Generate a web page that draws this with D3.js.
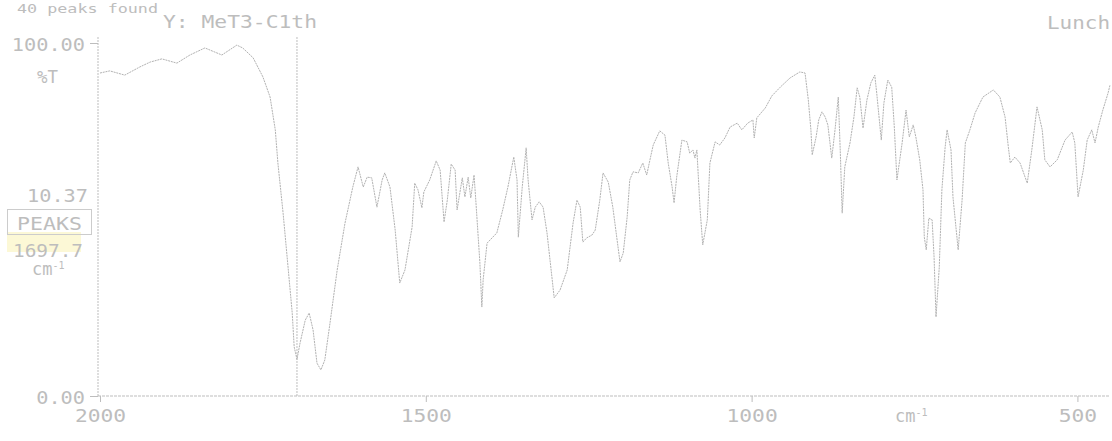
<!DOCTYPE html>
<html>
<head>
<meta charset="utf-8">
<script src="https://cdn.jsdelivr.net/npm/d3@7"></script>
<style>
  html, body { margin: 0; padding: 0; background: #ffffff; }
  svg { display: block; }
  text { font-family: "DejaVu Sans Mono", "Liberation Mono", monospace; fill: #bdbdbd; }
</style>
</head>
<body>
<svg id="chart" width="1112" height="441"></svg>
<script>
// ---- data (wavenumber in cm-1, %T) ----
const wavenumbers = [2000,1985,1962,1939,1923,1905,1882,1862,1839,1813,1790,1781,1765,1750,1739,1731,1727,1719,1712,1705,1702,1697.7,1693,1685,1679,1673,1667,1661,1655,1647,1636,1624,1612,1604,1596,1590,1583,1575,1567,1563,1555,1547,1540,1532,1521,1517,1512,1506,1503,1494,1484,1478,1472,1467,1461,1455,1452,1444,1440,1435,1431,1426,1423,1417,1414,1412,1406,1391,1382,1374,1365,1360,1358,1352,1346,1343,1337,1332,1326,1320,1314,1306,1303,1294,1283,1274,1268,1263,1259,1253,1245,1240,1233,1228,1220,1213,1207,1202,1197,1191,1187,1182,1174,1167,1161,1156,1151,1141,1133,1128,1122,1119,1115,1107,1099,1095,1090,1087,1084,1079,1075,1068,1064,1056,1049,1041,1033,1022,1015,1006,998,996,992,979,969,956,941,926,918,913,909,907,901,897,892,887,883,877,872,867,864,861,857,849,843,838,834,829,823,817,811,808,801,797,791,785,781,777,769,763,758,752,748,742,737,735,732,728,723,720,717,712,708,703,700,694,691,683,677,672,665,657,645,629,619,611,606,603,596,588,577,570,562,554,550,542,531,519,508,504,499,491,485,478,473,468,461,453,450];
const transmittance = [91.5,92.1,90.9,93.2,94.6,95.5,94.3,96.6,98.6,96.6,99.4,98.6,95.8,90.4,84.7,75.4,66.0,51.8,37.7,23.5,13.9,10.37,15.0,21.5,23.5,18.7,9.3,7.4,10.2,20.7,35.7,49.0,59.2,64.9,59.2,62.0,61.8,53.5,61.2,63.2,59.2,47.0,32.0,35.7,47.9,60.3,58.4,53.3,57.8,61.2,66.6,64.0,49.3,55.5,65.7,64.0,52.7,61.8,56.4,62.0,56.1,62.6,54.7,37.7,25.2,32.9,43.3,46.2,52.7,59.2,67.7,61.2,45.0,59.2,70.3,61.2,49.9,53.5,55.0,53.5,46.2,32.9,27.8,30.0,35.7,49.0,55.5,53.5,43.6,44.8,45.6,47.0,55.5,63.2,60.6,53.5,45.0,38.0,40.5,50.7,61.2,63.5,63.2,66.0,62.6,66.9,71.1,75.1,73.9,66.0,59.2,54.7,62.0,72.5,72.0,68.8,69.7,67.4,69.7,52.7,42.8,49.9,66.0,72.0,71.1,73.1,76.2,77.3,75.4,77.3,78.2,73.1,78.8,81.6,85.0,87.5,90.1,91.8,91.5,83.9,75.4,68.3,73.4,78.2,80.5,79.0,76.8,67.4,75.4,84.7,69.7,51.8,64.9,71.7,79.0,87.3,84.7,75.9,83.9,88.7,90.9,85.8,72.5,83.0,89.5,87.5,76.2,61.2,71.7,81.0,73.4,76.8,73.4,66.9,58.4,45.0,41.4,50.4,49.9,39.4,22.4,36.5,58.4,70.5,75.4,69.7,56.4,41.4,55.5,71.7,75.4,80.2,84.7,86.7,84.7,79.0,70.5,66.0,67.7,66.0,60.3,69.7,81.9,75.4,66.9,64.9,66.9,72.5,74.8,71.7,56.4,64.0,72.5,75.4,71.7,76.2,81.0,85.8,88.1];
const xTicks = [2000, 1500, 1000, 500];
const xTickLabels = ["2000", "1500", "1000", "500"];
const yTicks = [0, 100];
const yTickLabels = ["0.00", "100.00"];
const cursorWavenumber = 1697.7;
const cursorLabel = "1697.7";
const cursorValueLabel = "10.37";
const headerText = "40 peaks found";
const titleText = "Y: MeT3-C1th";
const rightText = "Lunch";

// ---- drawing ----
const svg = d3.select("#chart");
const ink = "#bdbdbd";
const x = d3.scaleLinear().domain([2000, 450]).range([100, 1110]);
const y = d3.scaleLinear().domain([0, 100]).range([396, 43]);

// x axis
const xAxis = d3.axisBottom(x).tickValues(xTicks).tickSize(6)
  .tickFormat((d, i) => xTickLabels[i]);
const gx = svg.append("g").attr("transform", `translate(0,${y(0)})`).call(xAxis);
gx.select(".domain").remove();
gx.selectAll(".tick line").attr("stroke", ink);
gx.selectAll(".tick text").attr("y", 26).attr("dy", 0)
  .attr("font-size", 18).style("fill", ink)
  .attr("textLength", (d, i) => xTickLabels[i].length * 12.8)
  .attr("lengthAdjust", "spacingAndGlyphs");

// y axis
const yAxis = d3.axisLeft(y).tickValues(yTicks).tickSize(8)
  .tickFormat((d, i) => yTickLabels[i]);
const gy = svg.append("g").attr("transform", `translate(${x(2000) - 2},0)`).call(yAxis);
gy.select(".domain").remove();
gy.selectAll(".tick line").attr("stroke", ink);
gy.selectAll(".tick text").attr("x", -13).attr("dy", "0.4em")
  .attr("font-size", 18).style("fill", ink)
  .attr("textLength", (d, i) => yTickLabels[i].length * 12.2)
  .attr("lengthAdjust", "spacingAndGlyphs");

// axis lines (dotted, printer-like)
svg.append("line")
  .attr("x1", x(2000) - 2).attr("x2", x(2000) - 2)
  .attr("y1", 37).attr("y2", y(0))
  .attr("stroke", ink).attr("stroke-width", 1).attr("stroke-dasharray", "2,1");
svg.append("line")
  .attr("x1", x(2000) - 2).attr("x2", x(450))
  .attr("y1", y(0)).attr("y2", y(0))
  .attr("stroke", ink).attr("stroke-width", 1).attr("stroke-dasharray", "3,1");

// cursor line
svg.append("line")
  .attr("x1", x(cursorWavenumber)).attr("x2", x(cursorWavenumber))
  .attr("y1", 37).attr("y2", y(0))
  .attr("stroke", ink).attr("stroke-width", 1).attr("stroke-dasharray", "2,1");

// spectrum
const data = wavenumbers.map((w, i) => ({ w, t: transmittance[i] }));
const line = d3.line().x(d => x(d.w)).y(d => y(d.t));
svg.append("path").datum(data)
  .attr("d", line)
  .attr("fill", "none")
  .attr("stroke", "#b2b2b2")
  .attr("stroke-width", 1)
  .attr("stroke-dasharray", "2,0.8");

// texts
function txt(s, xp, yp, len, size) {
  return svg.append("text").attr("x", xp).attr("y", yp)
    .attr("font-size", size || 18)
    .attr("textLength", len).attr("lengthAdjust", "spacingAndGlyphs")
    .text(s);
}
txt(headerText, 17, 13, 141, 13);
txt(titleText, 163, 28, 154);
txt(rightText, 1047, 29, 63);
txt("%T", 37, 83, 21);
txt(cursorValueLabel, 27, 202, 61);

// PEAKS box with pale yellow highlight
svg.append("rect").attr("x", 7).attr("y", 232).attr("width", 74).attr("height", 20)
  .attr("fill", "#fcf8d6");
svg.append("rect").attr("x", 7.5).attr("y", 209.5).attr("width", 84).attr("height", 25)
  .attr("fill", "none").attr("stroke", "#cccccc");
txt("PEAKS", 17, 230, 65);
txt(cursorLabel, 13, 257, 70);

// cm-1 left
const cmL = svg.append("text").attr("x", 32).attr("y", 275).attr("font-size", 17);
cmL.append("tspan").text("cm");
cmL.append("tspan").attr("dy", -6).attr("font-size", 10).text("-1");

// cm-1 bottom
const cmB = svg.append("text").attr("x", 895).attr("y", 422).attr("font-size", 17);
cmB.append("tspan").text("cm");
cmB.append("tspan").attr("dy", -6).attr("font-size", 10).text("-1");
</script>
</body>
</html>
